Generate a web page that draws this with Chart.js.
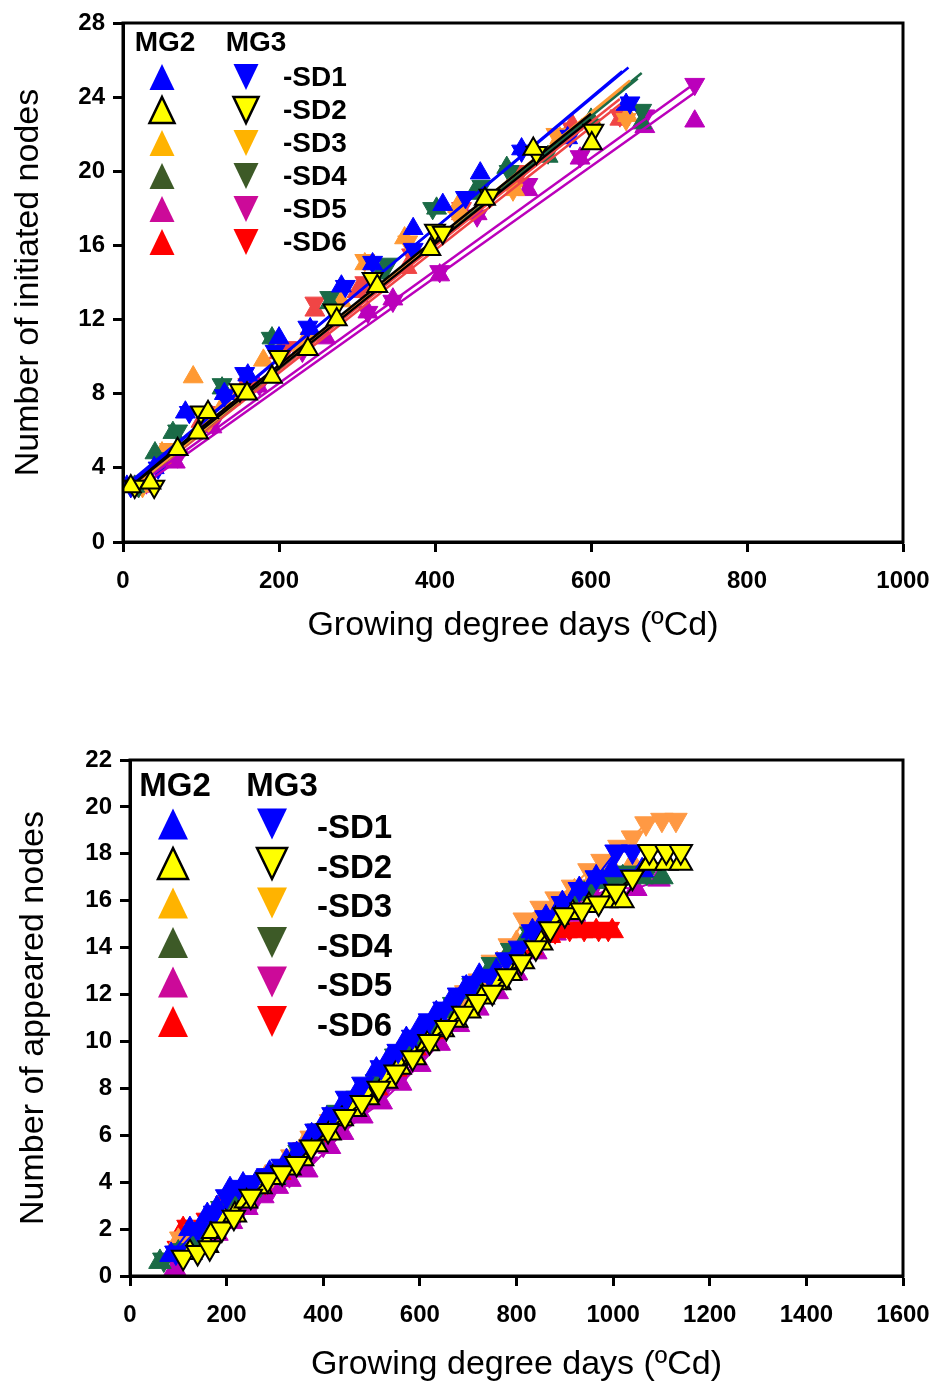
<!DOCTYPE html>
<html>
<head>
<meta charset="utf-8">
<title>Initiated and appeared nodes vs GDD</title>
<script src="https://cdn.jsdelivr.net/npm/chart.js"></script>
<style>
  html, body { margin: 0; background: #fff; overflow: hidden; }
  canvas { position: absolute; left: 0; }
  #c1 { top: 0; }
  #c2 { top: 700px; }
</style>
</head>
<body>
<canvas id="c1" width="935" height="660"></canvas>
<canvas id="c2" width="935" height="690"></canvas>
<script>
// legend / category names
const groupNames = ["MG2", "MG3"];
const sdNames = ["-SD1", "-SD2", "-SD3", "-SD4", "-SD5", "-SD6"];

// ---- top panel: initiated nodes (x = GDD, y = nodes) ----
const ini_sd1_mg2_x = [5, 40, 80, 130, 160, 200, 240, 280, 320, 372, 410, 458, 511, 570, 645];
const ini_sd1_mg2_y = [3.0, 4.0, 7.0, 8.0, 9.0, 11.0, 11.5, 13.8, 15.0, 16.9, 18.2, 19.9, 21.2, 21.8, 23.6];
const ini_sd1_mg3_x = [10, 45, 85, 130, 156, 195, 237, 285, 320, 372, 439, 511, 573, 650];
const ini_sd1_mg3_y = [3.0, 4.0, 7.0, 7.9, 9.1, 10.3, 11.6, 13.8, 15.1, 15.8, 18.6, 21.1, 21.9, 23.7];
const ini_sd2_mg2_x = [10, 35, 70, 96, 109, 159, 191, 237, 274, 326, 394, 464, 526, 601];
const ini_sd2_mg2_y = [3.0, 3.2, 5.0, 5.9, 7.0, 8.0, 8.9, 10.4, 12.0, 13.8, 15.8, 18.5, 21.2, 21.5];
const ini_sd2_mg3_x = [15, 40, 100, 150, 200, 270, 320, 400, 410, 470, 530, 603];
const ini_sd2_mg3_y = [3.0, 3.0, 7.0, 8.2, 10.0, 12.5, 14.2, 16.8, 16.7, 18.7, 21.0, 22.2];
const ini_sd3_mg2_x = [20, 50, 90, 130, 180, 230, 280, 310, 361, 429, 502, 560, 647];
const ini_sd3_mg2_y = [3.0, 4.8, 8.9, 7.5, 9.8, 10.6, 13.0, 15.0, 16.4, 18.1, 19.0, 21.8, 23.0];
const ini_sd3_mg3_x = [25, 60, 110, 150, 200, 240, 310, 365, 430, 500, 555, 600, 645];
const ini_sd3_mg3_y = [3.0, 5.0, 6.5, 8.0, 10.0, 11.0, 15.2, 16.2, 17.5, 19.0, 22.0, 22.3, 22.8];
const ini_sd4_mg2_x = [15, 41, 64, 127, 191, 265, 330, 402, 450, 492, 545, 600, 665];
const ini_sd4_mg2_y = [3.0, 4.8, 5.9, 8.3, 11.0, 12.9, 14.5, 18.0, 18.8, 20.2, 20.8, 22.8, 22.6];
const ini_sd4_mg3_x = [20, 50, 70, 127, 190, 265, 340, 397, 460, 495, 545, 600, 665];
const ini_sd4_mg3_y = [3.0, 4.5, 6.0, 8.5, 11.0, 13.2, 15.0, 18.0, 19.2, 20.0, 21.0, 22.5, 23.3];
const ini_sd5_mg2_x = [25, 67, 114, 173, 230, 260, 314, 346, 406, 454, 519, 586, 669, 733];
const ini_sd5_mg2_y = [3.0, 4.3, 6.2, 8.4, 10.5, 11.0, 12.4, 13.1, 14.4, 17.7, 19.0, 20.7, 22.4, 22.7];
const ini_sd5_mg3_x = [30, 70, 115, 175, 230, 314, 346, 406, 454, 519, 586, 669, 733];
const ini_sd5_mg3_y = [3.2, 4.6, 6.4, 8.5, 10.3, 12.4, 13.0, 14.6, 17.6, 19.3, 20.8, 23.0, 24.7];
const ini_sd6_mg2_x = [15, 50, 100, 150, 200, 246, 300, 364, 434, 500, 576, 637];
const ini_sd6_mg2_y = [3.0, 4.5, 6.5, 8.0, 10.2, 12.5, 13.5, 14.8, 17.7, 19.5, 22.5, 22.8];
const ini_sd6_mg3_x = [20, 60, 110, 160, 210, 246, 310, 370, 434, 510, 576, 637];
const ini_sd6_mg3_y = [3.0, 5.0, 7.0, 8.5, 10.5, 12.9, 14.0, 15.5, 18.0, 20.0, 22.3, 23.0];

// fitted lines, order: SD1 MG2, SD1 MG3, SD2 MG2, ... SD6 MG3
const fitStartX = [5, 5, 10, 10, 15, 15, 15, 15, 20, 20, 15, 15];
const fitStartY = [3.0, 3.1, 3.0, 3.1, 3.0, 3.1, 3.0, 3.1, 3.1, 2.9, 3.0, 3.1];
const fitEndX = [640, 648, 600, 600, 650, 640, 665, 660, 735, 735, 637, 637];
const fitEndY = [25.4, 25.6, 22.8, 23.1, 24.9, 24.5, 25.3, 25.0, 24.8, 24.3, 23.6, 23.9];

const iniTicksX = [0, 1000, 200];
const iniTicksY = [0, 28, 4];

// ---- bottom panel: appeared nodes ----
const app_sd1_mg2_x = [85, 124, 160, 180, 207, 234, 262, 289, 324, 345, 376, 407, 440, 470, 510, 537, 572, 600, 634, 661, 696, 723, 758, 799, 833, 861, 895, 930, 965, 998, 1060];
const app_sd1_mg2_y = [0.9, 2.0, 2.6, 2.9, 3.7, 3.9, 4.0, 4.4, 4.9, 5.2, 6.0, 6.7, 7.3, 7.8, 8.8, 9.3, 10.1, 10.6, 11.2, 11.6, 12.3, 12.8, 13.0, 13.7, 14.7, 15.3, 15.9, 16.5, 17.0, 17.3, 17.3];
const app_sd1_mg3_x = [95, 140, 175, 200, 225, 255, 285, 315, 350, 385, 420, 448, 482, 520, 555, 585, 620, 650, 680, 710, 744, 779, 806, 833, 861, 895, 930, 965, 1006, 1040];
const app_sd1_mg3_y = [1.0, 2.0, 2.7, 3.4, 3.8, 4.0, 4.3, 4.7, 5.4, 6.2, 6.9, 7.6, 8.2, 8.9, 9.6, 10.2, 10.9, 11.4, 12.0, 12.5, 12.8, 13.5, 14.0, 14.7, 15.3, 15.9, 16.5, 17.0, 18.1, 18.1];
const app_sd2_mg2_x = [124, 159, 172, 196, 217, 240, 270, 296, 330, 356, 385, 413, 438, 465, 492, 530, 558, 589, 616, 647, 675, 702, 730, 764, 787, 813, 851, 884, 916, 950, 985, 1019, 1075, 1110, 1140];
const app_sd2_mg2_y = [1.0, 1.3, 1.9, 2.4, 2.6, 3.2, 3.8, 4.2, 4.6, 5.0, 5.6, 6.1, 6.7, 7.1, 7.6, 8.3, 8.9, 9.3, 9.9, 10.5, 10.9, 11.3, 11.9, 12.5, 12.9, 13.4, 14.2, 15.3, 15.5, 15.8, 16.0, 16.0, 17.6, 17.6, 17.6];
const app_sd2_mg3_x = [110, 140, 165, 190, 215, 250, 285, 315, 345, 375, 410, 445, 480, 515, 550, 585, 620, 655, 690, 720, 750, 780, 810, 840, 870, 900, 935, 970, 1005, 1040, 1075, 1110, 1140];
const app_sd2_mg3_y = [0.8, 1.0, 1.2, 2.0, 2.5, 3.4, 4.1, 4.4, 4.8, 5.5, 6.2, 6.8, 7.4, 8.0, 8.7, 9.3, 10.0, 10.6, 11.2, 11.7, 12.1, 12.8, 13.4, 14.0, 14.8, 15.4, 15.6, 15.9, 16.4, 17.0, 18.1, 18.1, 18.1];
const app_sd3_mg2_x = [100, 130, 165, 200, 240, 280, 320, 360, 400, 440, 480, 520, 560, 600, 640, 680, 720, 760, 800, 840, 880, 920, 960, 1000, 1040];
const app_sd3_mg2_y = [1.5, 1.8, 2.2, 3.1, 3.6, 4.2, 4.8, 5.6, 6.4, 7.1, 7.8, 8.6, 9.4, 10.2, 10.9, 11.7, 12.5, 13.3, 14.2, 15.0, 15.8, 16.4, 17.0, 17.3, 17.6];
const app_sd3_mg3_x = [105, 135, 175, 215, 255, 295, 335, 375, 415, 455, 495, 535, 575, 615, 655, 695, 723, 750, 785, 816, 851, 882, 916, 950, 977, 1012, 1040, 1068, 1101, 1130];
const app_sd3_mg3_y = [1.6, 1.9, 2.4, 3.3, 3.8, 4.3, 5.1, 5.9, 6.6, 7.3, 8.1, 8.9, 9.7, 10.5, 11.2, 12.1, 12.6, 13.4, 14.1, 15.2, 15.7, 16.1, 16.6, 17.3, 17.7, 18.3, 18.7, 19.3, 19.45, 19.45];
const app_sd4_mg2_x = [62, 100, 140, 180, 220, 260, 300, 340, 380, 420, 460, 500, 540, 580, 620, 660, 700, 740, 780, 820, 860, 900, 940, 980, 1020, 1060, 1101];
const app_sd4_mg2_y = [0.6, 1.0, 1.6, 2.7, 3.3, 3.8, 4.2, 5.0, 5.9, 6.7, 7.3, 8.0, 8.9, 9.8, 10.5, 11.3, 12.1, 12.9, 13.6, 14.4, 15.0, 15.7, 16.3, 16.8, 17.0, 17.0, 17.0];
const app_sd4_mg3_x = [70, 110, 150, 190, 230, 270, 310, 350, 390, 430, 470, 510, 550, 590, 630, 670, 710, 750, 790, 830, 870, 910, 950, 990, 1030, 1070];
const app_sd4_mg3_y = [0.7, 1.1, 1.8, 2.9, 3.5, 3.9, 4.4, 5.3, 6.2, 7.0, 7.6, 8.3, 9.4, 10.1, 10.8, 11.6, 12.4, 13.3, 13.9, 14.6, 15.2, 15.9, 16.5, 17.0, 17.2, 17.2];
const app_sd5_mg2_x = [93, 140, 180, 210, 242, 275, 305, 331, 366, 413, 440, 480, 520, 560, 600, 640, 680, 720, 760, 800, 840, 880, 920, 960, 1000, 1047, 1095];
const app_sd5_mg2_y = [0.3, 1.2, 1.8, 2.3, 2.9, 3.4, 3.8, 4.1, 4.5, 5.5, 6.1, 6.8, 7.4, 8.2, 9.0, 9.9, 10.7, 11.4, 12.1, 12.9, 13.8, 14.6, 15.4, 16.2, 16.6, 16.5, 16.9];
const app_sd5_mg3_x = [100, 150, 190, 225, 260, 295, 330, 365, 400, 440, 480, 520, 560, 600, 640, 680, 720, 760, 800, 840, 880, 920, 960, 1000, 1040];
const app_sd5_mg3_y = [0.5, 1.4, 2.1, 2.7, 3.3, 3.8, 4.3, 4.8, 5.6, 6.4, 7.1, 7.8, 8.5, 9.4, 10.3, 11.0, 11.8, 12.6, 13.5, 14.3, 15.1, 16.0, 16.6, 17.0, 17.2];
const app_sd6_mg2_x = [95, 110, 150, 190, 230, 270, 310, 350, 390, 430, 470, 510, 550, 590, 630, 670, 710, 750, 790, 830, 868, 903, 935, 965, 998];
const app_sd6_mg2_y = [1.0, 2.0, 2.2, 2.9, 3.5, 3.9, 4.4, 5.2, 6.0, 6.8, 7.4, 8.0, 8.8, 9.7, 10.4, 11.2, 11.9, 12.7, 13.4, 14.0, 14.5, 14.7, 14.7, 14.7, 14.7];
const app_sd6_mg3_x = [100, 120, 160, 200, 240, 280, 320, 360, 400, 440, 480, 520, 560, 600, 640, 680, 720, 760, 800, 840, 880, 910, 940, 970, 990];
const app_sd6_mg3_y = [1.2, 2.1, 2.4, 3.1, 3.6, 4.0, 4.6, 5.4, 6.2, 6.9, 7.5, 8.2, 9.0, 9.9, 10.6, 11.3, 12.1, 12.8, 13.6, 14.2, 14.7, 14.8, 14.8, 14.8, 14.8];

const appTicksX = [0, 1600, 200];
const appTicksY = [0, 22, 2];

// colours per SD
const topColors = ["#0000FF", "#FFFF00", "#FF9933", "#1B6B47", "#BB00BB", "#F04545"];
const botColors = ["#0000FF", "#FFFF00", "#FF9944", "#1B6B47", "#BB00BB", "#FF0000"];
const fitColors = ["#0000FF", "#000000", "#FF9933", "#1B6B47", "#BB00BB", "#F04545"];
const legendColors = ["#0000FF", "#FFFF00", "#FFB300", "#3D5A27", "#CC0A99", "#FF0000"];

const FONT = 'Arial, "Liberation Sans", sans-serif';
Chart.defaults.font.family = FONT;
Chart.defaults.color = "#000";

function pts(xs, ys) {
  return xs.map((x, i) => ({ x: x, y: ys[i] }));
}

function markers(xs, ys, sd, mg, colors, r, joined) {
  const yellow = sd === 1;
  const c = colors[sd];
  return {
    label: groupNames[mg] + sdNames[sd],
    data: pts(xs, ys),
    showLine: joined,
    borderColor: yellow ? "#000" : c,
    borderWidth: 2,
    pointStyle: "triangle",
    pointRotation: mg === 1 ? 180 : 0,
    pointRadius: r,
    pointBackgroundColor: c,
    pointBorderColor: yellow ? "#000" : c,
    pointBorderWidth: yellow ? 2 : 1
  };
}

function fitLines() {
  const out = [];
  for (let i = 0; i < fitStartX.length; i++) {
    out.push({
      label: "fit " + i,
      data: pts([fitStartX[i], fitEndX[i]], [fitStartY[i], fitEndY[i]]),
      showLine: true,
      borderColor: fitColors[Math.floor(i / 2)],
      borderWidth: 2.5,
      pointRadius: 0
    });
  }
  return out;
}

function tri(ctx, cx, cy, w, h, down, fill, outline) {
  ctx.beginPath();
  if (down) {
    ctx.moveTo(cx - w / 2, cy - h / 2);
    ctx.lineTo(cx + w / 2, cy - h / 2);
    ctx.lineTo(cx, cy + h / 2);
  } else {
    ctx.moveTo(cx, cy - h / 2);
    ctx.lineTo(cx + w / 2, cy + h / 2);
    ctx.lineTo(cx - w / 2, cy + h / 2);
  }
  ctx.closePath();
  ctx.fillStyle = fill;
  ctx.fill();
  if (outline) {
    ctx.lineWidth = 2.5;
    ctx.strokeStyle = "#000";
    ctx.stroke();
  }
}

const legendPlugin = {
  id: "mgLegend",
  afterDraw(chart, args, o) {
    const ctx = chart.ctx, a = chart.chartArea;
    ctx.save();
    ctx.font = "bold " + o.font + "px " + FONT;
    ctx.textBaseline = "middle";
    ctx.textAlign = "center";
    ctx.fillStyle = "#000";
    ctx.fillText(groupNames[0], a.left + o.headX[0], a.top + o.headY);
    ctx.fillText(groupNames[1], a.left + o.headX[1], a.top + o.headY);
    ctx.textAlign = "left";
    sdNames.forEach((name, i) => {
      const y = a.top + o.rowY + i * o.rowGap;
      tri(ctx, a.left + o.colX[0], y, o.w, o.h, false, legendColors[i], i === 1);
      tri(ctx, a.left + o.colX[1], y, o.w, o.h, true, legendColors[i], i === 1);
      ctx.fillStyle = "#000";
      ctx.fillText(name, a.left + o.labelX, y + o.textDy);
    });
    ctx.restore();
  }
};

const framePlugin = {
  id: "frame",
  afterDraw(chart) {
    const a = chart.chartArea, ctx = chart.ctx;
    ctx.save();
    ctx.strokeStyle = "#000";
    ctx.lineWidth = 3;
    ctx.strokeRect(a.left, a.top, a.right - a.left, a.bottom - a.top);
    ctx.restore();
  }
};

function axis(ticks, title, fit, tickPad, titlePad) {
  return {
    type: "linear",
    min: ticks[0],
    max: ticks[1],
    ticks: {
      stepSize: ticks[2], color: "#000", padding: tickPad,
      font: { size: 24, weight: "bold" },
      callback: v => String(v)
    },
    grid: { drawOnChartArea: false, tickLength: 10, tickWidth: 3, tickColor: "#000" },
    border: { display: true, color: "#000", width: 3 },
    title: { display: true, text: title, color: "#000", font: { size: 34 }, padding: titlePad },
    afterFit: fit
  };
}

function makeChart(id, datasets, xt, yt, yTitle, sizes, legendOpts) {
  return new Chart(document.getElementById(id), {
    type: "scatter",
    data: { datasets: datasets },
    options: {
      responsive: false,
      animation: false,
      events: [],
      layout: { padding: { left: 0, top: sizes.top, right: 32, bottom: 0 } },
      plugins: { legend: { display: false }, tooltip: { enabled: false }, mgLegend: legendOpts },
      scales: {
        x: axis(xt, "Growing degree days (ºCd)", s => {
          s.height = sizes.xh;
          s.paddingLeft = 0;
          s.paddingRight = 0;
        }, 15, { top: 4, bottom: sizes.xtp }),
        y: axis(yt, yTitle, s => {
          s.width = sizes.yw;
          s.paddingTop = 0;
          s.paddingBottom = 0;
        }, 8, { top: sizes.ytp, bottom: 4 })
      }
    },
    plugins: [legendPlugin, framePlugin]
  });
}

// top panel
const topSets = [
  markers(ini_sd2_mg2_x, ini_sd2_mg2_y, 1, 0, topColors, 11.5, false),
  markers(ini_sd2_mg3_x, ini_sd2_mg3_y, 1, 1, topColors, 11.5, false),
  ...fitLines(),
  markers(ini_sd1_mg3_x, ini_sd1_mg3_y, 0, 1, topColors, 11.5, false),
  markers(ini_sd1_mg2_x, ini_sd1_mg2_y, 0, 0, topColors, 11.5, false),
  markers(ini_sd4_mg3_x, ini_sd4_mg3_y, 3, 1, topColors, 11.5, false),
  markers(ini_sd4_mg2_x, ini_sd4_mg2_y, 3, 0, topColors, 11.5, false),
  markers(ini_sd3_mg3_x, ini_sd3_mg3_y, 2, 1, topColors, 11.5, false),
  markers(ini_sd3_mg2_x, ini_sd3_mg2_y, 2, 0, topColors, 11.5, false),
  markers(ini_sd6_mg3_x, ini_sd6_mg3_y, 5, 1, topColors, 11.5, false),
  markers(ini_sd6_mg2_x, ini_sd6_mg2_y, 5, 0, topColors, 11.5, false),
  markers(ini_sd5_mg3_x, ini_sd5_mg3_y, 4, 1, topColors, 11.5, false),
  markers(ini_sd5_mg2_x, ini_sd5_mg2_y, 4, 0, topColors, 11.5, false)
];

makeChart("c1", topSets, iniTicksX, iniTicksY, "Number of initiated nodes",
  { top: 23, xh: 118, yw: 123, xtp: 14, ytp: 8 },
  { font: 28, headX: [42, 133], headY: 20, colX: [39, 123], w: 25, h: 26, rowY: 54, rowGap: 33, labelX: 160, textDy: 1 });

// bottom panel
const botSets = [
  markers(app_sd2_mg3_x, app_sd2_mg3_y, 1, 1, botColors, 13, true),
  markers(app_sd1_mg3_x, app_sd1_mg3_y, 0, 1, botColors, 13, true),
  markers(app_sd2_mg2_x, app_sd2_mg2_y, 1, 0, botColors, 13, true),
  markers(app_sd1_mg2_x, app_sd1_mg2_y, 0, 0, botColors, 13, true),
  markers(app_sd4_mg3_x, app_sd4_mg3_y, 3, 1, botColors, 13, true),
  markers(app_sd4_mg2_x, app_sd4_mg2_y, 3, 0, botColors, 13, true),
  markers(app_sd3_mg3_x, app_sd3_mg3_y, 2, 1, botColors, 13, true),
  markers(app_sd3_mg2_x, app_sd3_mg2_y, 2, 0, botColors, 13, true),
  markers(app_sd6_mg3_x, app_sd6_mg3_y, 5, 1, botColors, 13, true),
  markers(app_sd6_mg2_x, app_sd6_mg2_y, 5, 0, botColors, 13, true),
  markers(app_sd5_mg3_x, app_sd5_mg3_y, 4, 1, botColors, 13, true),
  markers(app_sd5_mg2_x, app_sd5_mg2_y, 4, 0, botColors, 13, true)
];

makeChart("c2", botSets, appTicksX, appTicksY, "Number of appeared nodes",
  { top: 60, xh: 114, yw: 130, xtp: 4.6, ytp: 13 },
  { font: 33, headX: [45, 152], headY: 27, colX: [43, 142], w: 30, h: 31, rowY: 64, rowGap: 39.5, labelX: 187, textDy: 5 });
</script>
</body>
</html>
